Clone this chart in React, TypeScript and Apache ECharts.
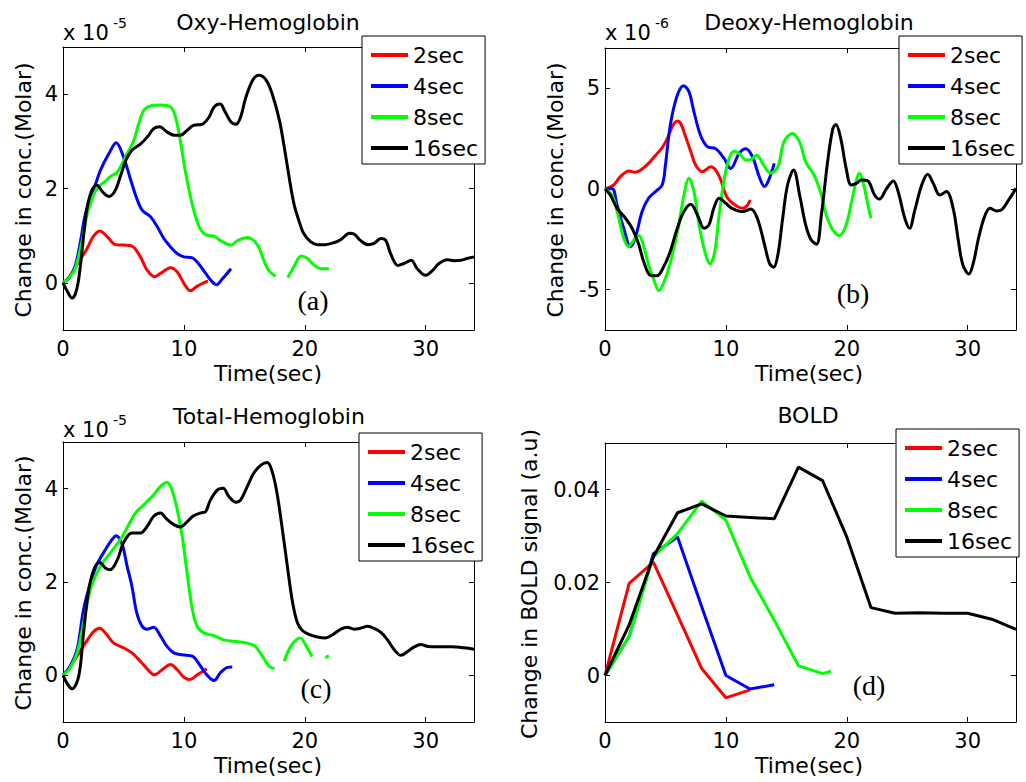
import React, { useEffect, useRef } from "react";
import * as echarts from "echarts";

const SERIES_NAMES = ["2sec", "4sec", "8sec", "16sec"];
const COLORS = ["#ff0000", "#0000ff", "#00ff00", "#000000"];
const X_TICKS = [0, 10, 20, 30];
const Y_TICKS_OXY = [0, 2, 4];
const Y_TICKS_DEOXY = [-5, 0, 5];
const Y_TICKS_TOTAL = [0, 2, 4];
const Y_TICKS_BOLD = [0, 0.02, 0.04];

// Oxy-Hemoglobin (x 1e-5 Molar)
const OXY_2 = [[0,0],[0.5,0.12],[1,0.32],[1.44,0.5],[2,0.73],[2.5,0.98],[3.04,1.1],[3.65,0.98],[4.34,0.81],[5,0.8],[5.7,0.78],[6.4,0.55],[6.96,0.27],[7.57,0.13],[8.07,0.2],[8.9,0.32],[9.45,0.23],[10,-0.01],[10.55,-0.17],[11.1,-0.07],[12,0.04]];
const OXY_4 = [[0,0],[0.5,0.1],[1,0.35],[1.44,0.87],[1.8,1.4],[2.27,1.82],[2.7,2.1],[3.1,2.39],[3.8,2.74],[4.4,2.97],[5,2.67],[5.6,2.18],[6.1,1.79],[6.55,1.54],[7.24,1.4],[7.8,1.19],[8.34,0.94],[8.9,0.76],[9.45,0.62],[10,0.55],[10.7,0.53],[11.2,0.41],[11.8,0.2],[12.35,0.02],[12.7,-0.04],[13.2,0.09],[13.9,0.3]];
const OXY_8 = [[0,0],[0.5,0.1],[1,0.3],[1.5,0.8],[2,1.45],[2.5,1.85],[3,2.05],[3.5,2.15],[3.9,2.25],[4.5,2.35],[5.3,2.74],[5.86,3.02],[6.27,3.38],[6.7,3.66],[7.24,3.75],[8.07,3.77],[8.9,3.73],[9.3,3.52],[9.7,3.02],[10.1,2.39],[10.55,1.82],[10.97,1.4],[11.4,1.12],[11.9,1.01],[12.5,0.99],[13,0.9],[13.9,0.8],[14.4,0.89],[15.25,0.96],[16.1,0.8],[16.6,0.48],[17,0.27],[17.6,0.14],[18.1,null],[18.6,0.11],[19.1,0.34],[19.7,0.57],[20.2,0.52],[20.8,0.37],[21.3,0.3],[22,0.3]];
const OXY_16 = [[0,0],[0.4,-0.2],[0.75,-0.32],[1,-0.25],[1.25,0.0],[1.5,0.5],[1.75,1.1],[2,1.6],[2.4,1.97],[2.8,2.07],[3.3,1.92],[3.8,1.83],[4.3,1.95],[4.8,2.3],[5.2,2.6],[5.7,2.81],[6.4,2.94],[7,3.1],[7.5,3.27],[8,3.31],[8.6,3.2],[9.2,3.13],[9.7,3.13],[10.3,3.24],[10.8,3.34],[11.5,3.36],[12.1,3.52],[12.5,3.73],[13,3.79],[13.4,3.63],[13.9,3.41],[14.3,3.36],[14.7,3.52],[15.1,3.91],[15.7,4.3],[16.2,4.4],[16.8,4.3],[17.3,4.01],[17.9,3.45],[18.3,2.88],[18.7,2.25],[19.1,1.68],[19.5,1.33],[19.9,1.05],[20.5,0.87],[21.05,0.81],[21.7,0.81],[22.4,0.85],[23,0.92],[23.7,1.05],[24.1,1.03],[24.6,0.9],[25.2,0.81],[25.7,0.83],[26.3,0.94],[26.7,0.9],[27.1,0.62],[27.7,0.37],[28.2,0.41],[28.8,0.48],[29.3,0.3],[30,0.16],[30.6,0.27],[31.1,0.41],[31.8,0.49],[32.4,0.47],[32.9,0.48],[33.5,0.52],[34,0.55]];

// Deoxy-Hemoglobin (x 1e-6 Molar)
const DEOXY_2 = [[0,0],[0.72,0.2],[1.27,0.61],[1.97,0.89],[2.5,0.83],[3.07,0.99],[3.6,1.27],[4.2,1.68],[4.73,2.05],[5.15,2.5],[5.56,3.09],[5.98,3.37],[6.26,3.25],[6.67,2.59],[7.1,1.85],[7.5,1.19],[8.05,0.86],[8.75,1.1],[9.16,0.94],[9.58,0.45],[10,-0.3],[10.4,-0.63],[10.96,-0.87],[11.4,-0.96],[11.8,-0.79],[12,-0.54]];
const DEOXY_4 = [[0,0],[0.58,0.03],[1,-0.8],[1.55,-1.95],[2.1,-2.85],[2.5,-2.44],[3.07,-1.12],[3.6,-0.46],[4.18,-0.13],[4.73,0.2],[5,1.19],[5.4,3.17],[5.98,4.65],[6.5,5.13],[6.95,4.82],[7.36,3.83],[7.9,2.67],[8.47,2.1],[9.16,2.0],[9.85,1.52],[10.4,1.02],[11.1,1.77],[11.65,2.0],[12.2,1.6],[12.76,0.61],[13.2,0.12],[13.6,0.53],[14,1.27]];
const DEOXY_8 = [[0,0],[0.58,-0.3],[1,-1.12],[1.55,-2.44],[1.97,-2.85],[2.4,-2.52],[2.8,-2.31],[3.2,-2.85],[3.6,-3.76],[4.04,-4.5],[4.46,-5.05],[4.9,-4.59],[5.43,-3.6],[6,-2.11],[6.53,-0.3],[6.95,0.53],[7.36,-0.13],[7.78,-1.78],[8.33,-3.27],[8.7,-3.71],[9.08,-3.1],[9.44,-1.29],[9.85,0.45],[10.27,1.52],[10.7,1.88],[11.25,1.68],[11.65,1.44],[12.07,1.47],[12.57,1.68],[13.04,1.27],[13.7,0.78],[14.3,1.1],[14.8,2.34],[15.5,2.76],[16.1,2.34],[16.6,1.35],[17.3,0.69],[17.9,-0.3],[18.3,-1.29],[18.85,-2.03],[19.4,-2.31],[19.95,-1.78],[20.4,-0.63],[20.8,0.45],[21.06,0.78],[21.4,0.2],[21.75,-0.79],[22,-1.45]];
const DEOXY_16 = [[0,0],[0.44,-0.3],[1,-0.96],[1.69,-1.45],[2.24,-1.95],[2.8,-2.77],[3.2,-3.6],[3.76,-4.29],[4.3,-4.31],[4.87,-3.84],[5.4,-3.1],[5.98,-1.95],[6.53,-1.12],[7.1,-0.76],[7.64,-1.29],[8.2,-1.95],[8.6,-1.78],[9,-0.96],[9.44,-0.46],[10,-0.71],[10.5,-0.96],[11.4,-1.12],[12.07,-0.99],[12.6,-1.45],[13.2,-2.77],[13.6,-3.68],[13.95,-3.89],[14.3,-3.27],[14.7,-1.45],[15.1,0.2],[15.6,0.94],[16.1,-0.3],[16.6,-1.78],[17.05,-2.52],[17.5,-2.74],[17.9,-1.29],[18.45,1.52],[18.85,3.0],[19.1,3.2],[19.5,2.51],[19.95,1.02],[20.37,0.2],[20.8,0.28],[21.2,0.45],[21.75,0.4],[22.3,-0.3],[22.7,-0.5],[23.3,0.03],[23.85,0.4],[24.25,-0.13],[24.8,-1.45],[25.2,-1.95],[25.6,-1.12],[26.2,0.2],[26.7,0.73],[27.15,0.28],[27.7,-0.3],[28.25,-0.13],[28.8,-0.96],[29.2,-2.44],[29.6,-3.76],[30.1,-4.22],[30.5,-3.6],[30.9,-2.44],[31.4,-1.37],[31.85,-0.96],[32.4,-1.09],[32.8,-1.04],[33.4,-0.54],[34,0.03]];

// Total-Hemoglobin (x 1e-5 Molar)
const TOTAL_2 = [[0,0],[0.5,0.15],[1.16,0.41],[1.85,0.69],[2.54,0.94],[3.04,1.01],[3.5,0.91],[4.2,0.69],[5,0.59],[5.7,0.48],[6.4,0.3],[6.96,0.14],[7.57,0.01],[8.2,0.12],[8.9,0.23],[9.45,0.12],[10,-0.04],[10.5,-0.09],[11.1,0.01],[11.9,0.14]];
const TOTAL_4 = [[0,0],[0.5,0.15],[1.16,0.55],[1.7,1.41],[2.27,1.98],[2.8,2.37],[3.5,2.69],[4.06,2.91],[4.4,2.99],[4.9,2.8],[5.3,2.34],[5.7,1.91],[6.1,1.34],[6.55,1.05],[6.96,0.99],[7.5,1.03],[8.07,0.84],[8.6,0.62],[9.17,0.48],[9.86,0.44],[10.7,0.41],[11.4,0.19],[11.9,0.01],[12.5,-0.11],[13,0.05],[13.6,0.17],[14,0.18]];
const TOTAL_8 = [[0,0],[0.5,0.12],[1.16,0.48],[1.7,1.12],[2.27,1.84],[3.1,2.34],[3.9,2.62],[4.75,2.91],[5.44,3.23],[6,3.48],[6.7,3.66],[7.4,3.84],[8.07,4.05],[8.6,4.14],[9,3.98],[9.45,3.55],[9.86,2.98],[10.3,2.12],[10.7,1.41],[11.1,1.05],[11.66,0.91],[12.5,0.85],[13.3,0.76],[14.1,0.73],[15.25,0.69],[15.9,0.62],[16.5,0.41],[17,0.21],[17.5,0.14],[17.9,null],[18.3,0.3],[18.6,0.5],[19,0.68],[19.6,0.8],[20.2,0.59],[20.6,0.4],[21,null],[21.7,0.38],[22,0.42]];
const TOTAL_16 = [[0,0],[0.4,-0.2],[0.75,-0.29],[1.3,-0.02],[1.7,0.91],[2.13,1.84],[2.6,2.3],[3.04,2.42],[3.5,2.3],[3.9,2.26],[4.5,2.48],[5,2.84],[5.7,3.05],[6.4,3.05],[6.96,3.19],[7.5,3.41],[8.07,3.48],[8.6,3.34],[9.17,3.23],[9.7,3.18],[10.3,3.3],[10.8,3.42],[11.4,3.48],[11.8,3.51],[12.2,3.76],[12.8,3.98],[13.25,4.01],[13.7,3.84],[14.3,3.71],[14.7,3.76],[15.25,4.05],[15.8,4.34],[16.4,4.51],[16.9,4.56],[17.3,4.37],[17.7,3.91],[18.15,3.12],[18.6,2.26],[19,1.55],[19.4,1.12],[19.8,0.96],[20.4,0.87],[21.05,0.82],[21.7,0.8],[22.3,0.87],[23,0.99],[23.5,1.03],[24.1,0.99],[24.6,1.01],[25.2,1.05],[25.7,1.01],[26.3,0.92],[26.85,0.76],[27.4,0.55],[27.96,0.43],[28.5,0.51],[29.06,0.61],[29.6,0.66],[30.2,0.62],[31,0.61],[32.1,0.61],[33.2,0.59],[34,0.56]];

// BOLD (a.u)
const BOLD_2 = [[0,0],[2,0.0198],[4,0.0244],[6,0.013],[8,0.0015],[10,-0.0048],[12,-0.0031]];
const BOLD_4 = [[0,0],[2,0.0084],[4,0.0262],[6,0.0298],[8,0.0148],[10,0],[12,-0.0029],[14,-0.002]];
const BOLD_8 = [[0,0],[2,0.0084],[4,0.0255],[6,0.0305],[8,0.0375],[10,0.0334],[12,0.0212],[14,0.0119],[16,0.0021],[18,0.0004],[18.7,0.0009]];
const BOLD_16 = [[0,0],[2,0.0109],[4,0.0255],[6,0.035],[8,0.0369],[10,0.0343],[12,0.034],[14,0.0337],[16,0.0448],[18,0.0419],[20,0.0298],[22,0.0146],[24,0.0134],[26,0.0135],[28,0.0134],[30,0.0134],[32,0.0121],[34,0.0099]];

const SANS = "'DejaVu Sans', sans-serif";
const SERIF = "'Liberation Serif', serif";

const PANELS = [
  { title: "Oxy-Hemoglobin", yName: "Change in conc.(Molar)", exp: "-5", label: "(a)", yMin: -1, yMax: 5, yTicks: Y_TICKS_OXY, data: [OXY_2, OXY_4, OXY_8, OXY_16], smooth: 0.35,
    grid: { left: 63, top: 47, width: 411, height: 283 }, legend: { left: 362, top: 36 },
    titlePos: [268, 22], xNamePos: [268, 373], yNamePos: [23, 190], expPos: [63, 33], labelPos: [313, 300] },
  { title: "Deoxy-Hemoglobin", yName: "Change in conc.(Molar)", exp: "-6", label: "(b)", yMin: -7, yMax: 7, yTicks: Y_TICKS_DEOXY, data: [DEOXY_2, DEOXY_4, DEOXY_8, DEOXY_16], smooth: 0.35,
    grid: { left: 605, top: 48, width: 411, height: 282 }, legend: { left: 899, top: 36 },
    titlePos: [809, 22], xNamePos: [809, 373], yNamePos: [555, 190], expPos: [605, 33], labelPos: [853, 293] },
  { title: "Total-Hemoglobin", yName: "Change in conc.(Molar)", exp: "-5", label: "(c)", yMin: -1, yMax: 5, yTicks: Y_TICKS_TOTAL, data: [TOTAL_2, TOTAL_4, TOTAL_8, TOTAL_16], smooth: 0.35,
    grid: { left: 63, top: 442, width: 411, height: 280 }, legend: { left: 359, top: 433 },
    titlePos: [269, 416], xNamePos: [268, 765], yNamePos: [23, 583], expPos: [63, 430], labelPos: [316, 688] },
  { title: "BOLD", yName: "Change in BOLD signal (a.u)", exp: null, label: "(d)", yMin: -0.01, yMax: 0.05, yTicks: Y_TICKS_BOLD, data: [BOLD_2, BOLD_4, BOLD_8, BOLD_16], smooth: false,
    grid: { left: 605, top: 443, width: 411, height: 279 }, legend: { left: 896, top: 429 },
    titlePos: [808, 415], xNamePos: [809, 765], yNamePos: [529, 584], expPos: null, labelPos: [869, 685] },
];

function fmt(v: number) {
  return String(parseFloat(v.toFixed(4)));
}

function buildOption() {
  const grid: any[] = [];
  const xAxis: any[] = [];
  const yAxis: any[] = [];
  const series: any[] = [];
  const legend: any[] = [];
  const graphic: any[] = [];
  const axisLine = { show: true, onZero: false, lineStyle: { color: "#000", width: 1 } };
  const labelStyle = { fontSize: 21, fontFamily: SANS, color: "#000" };

  PANELS.forEach((p, i) => {
    grid.push({ ...p.grid, containLabel: false });
    ["bottom", "top"].forEach((pos, k) => {
      xAxis.push({
        type: "value", gridIndex: i, position: pos, min: 0, max: 34,
        axisLine,
        axisTick: { show: true, inside: true, length: 5, customValues: X_TICKS, lineStyle: { color: "#000" } },
        axisLabel: k === 0 ? { show: true, customValues: X_TICKS, margin: 8, ...labelStyle, formatter: (v: number) => fmt(v) } : { show: false },
        splitLine: { show: false },
      });
    });
    ["left", "right"].forEach((pos, k) => {
      yAxis.push({
        type: "value", gridIndex: i, position: pos, min: p.yMin, max: p.yMax,
        axisLine,
        axisTick: { show: true, inside: true, length: 5, customValues: p.yTicks, lineStyle: { color: "#000" } },
        axisLabel: k === 0 ? { show: true, customValues: p.yTicks, margin: 5, ...labelStyle, formatter: (v: number) => fmt(v) } : { show: false },
        splitLine: { show: false },
      });
    });
    p.data.forEach((d, s) => {
      series.push({
        type: "line", name: SERIES_NAMES[s], xAxisIndex: 2 * i, yAxisIndex: 2 * i,
        data: d, symbol: "none", showSymbol: false, smooth: p.smooth, connectNulls: false,
        lineStyle: { width: 3, color: COLORS[s] }, itemStyle: { color: COLORS[s] },
        emphasis: { disabled: true }, z: 2 + s,
      });
    });
    legend.push({
      left: p.legend.left, top: p.legend.top, orient: "vertical", data: SERIES_NAMES,
      icon: "rect", itemWidth: 37, itemHeight: 4, itemGap: 9, padding: [8, 7, 5, 9],
      borderColor: "#000", borderWidth: 1, backgroundColor: "#fff", selectedMode: false,
      textStyle: { fontSize: 22, fontFamily: SANS, color: "#000", lineHeight: 22 },
      z: 10,
    });
    const txt = (x: number, y: number, text: string, extra: any = {}, style: any = {}) => ({
      type: "text", x, y, z: 20, ...extra,
      style: { text, fontSize: 22, fontFamily: SANS, fill: "#000", align: "center", verticalAlign: "middle", ...style },
    });
    graphic.push(txt(p.titlePos[0], p.titlePos[1], p.title));
    graphic.push(txt(p.xNamePos[0], p.xNamePos[1], "Time(sec)"));
    graphic.push(txt(p.yNamePos[0], p.yNamePos[1], p.yName, { rotation: Math.PI / 2 }));
    if (p.expPos) {
      graphic.push(txt(p.expPos[0], p.expPos[1], "x 10", {}, { align: "left", fontSize: 21 }));
      graphic.push(txt(p.expPos[0] + 50, p.expPos[1] - 10, p.exp as string, {}, { align: "left", fontSize: 14 }));
    }
    graphic.push(txt(p.labelPos[0], p.labelPos[1], p.label, {}, { fontFamily: SERIF, fontSize: 28 }));
  });

  return {
    animation: false,
    backgroundColor: "#fff",
    grid, xAxis, yAxis, series, legend,
    graphic: { elements: graphic },
  };
}

export default function App() {
  const ref = useRef<HTMLDivElement>(null);
  useEffect(() => {
    if (!ref.current) return;
    const chart = echarts.init(ref.current, null, { renderer: "svg" });
    chart.setOption(buildOption() as any);
    return () => chart.dispose();
  }, []);
  return (
    <div
      ref={ref}
      style={{ position: "absolute", left: 0, top: 0, width: 1026, height: 782, background: "#fff" }}
    />
  );
}
